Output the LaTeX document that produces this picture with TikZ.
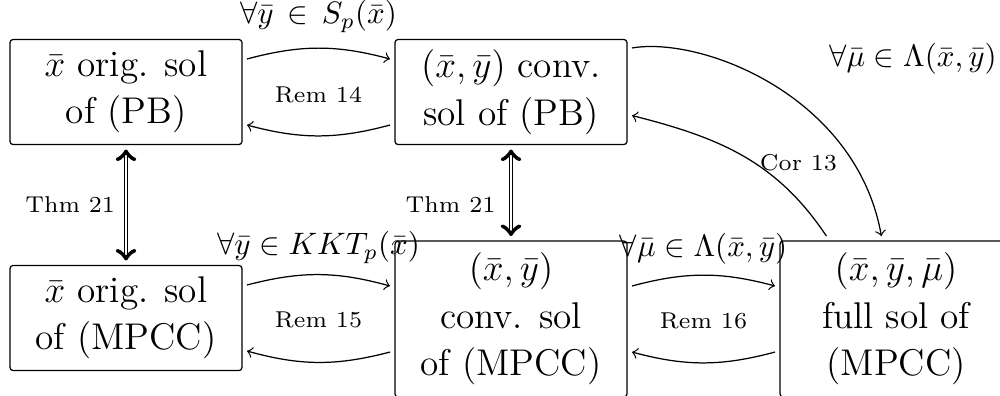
\documentclass[tikz,border=0pt]{standalone}
\usetikzlibrary{calc}
\tikzset{
  box/.style={draw, rounded corners=1pt, minimum width=74.84pt, align=center,
    font=\fontsize{12}{15.3}\selectfont, outer sep=1.6pt, inner sep=0pt},
  sbox/.style={box, minimum height=33.9pt},
  tbox/.style={box, minimum height=50.3pt},
  lab/.style={font=\fontsize{7.4}{9}\selectfont},
  mlab/.style={font=\fontsize{10}{12}\selectfont},
  arr/.style={->, bend left=15},
  dbl/.style={double, <->},
}
\begin{document}
\begin{tikzpicture}[x=0.32258pt, y=-0.32258pt]
\useasboundingbox (0,0) rectangle (1000,395);
\node[sbox] (A) at (126,92) {$\bar x$ orig. sol\\of (PB)};
\node[sbox] (B) at (511,92) {$(\bar x,\bar y)$ conv.\\sol of (PB)};
\node[sbox] (C) at (126,318) {$\bar x$ orig. sol\\of (MPCC)};
\node[tbox] (D) at (511,319) {$(\bar x,\bar y)$\\conv. sol\\of (MPCC)};
\node[tbox] (E) at (896,319) {$(\bar x,\bar y,\bar\mu)$\\full sol of\\(MPCC)};

\draw[arr] ([yshift=10.65pt]A.east) to node[mlab, above=1.5pt] {$\forall\bar y \,\in\, S_p(\bar x)$} ([yshift=10.65pt]B.west);
\draw[arr] ([yshift=-10.65pt]B.west) to ([yshift=-10.65pt]A.east);
\node[lab] (r14) at ($(A.east)!.5!(B.west)$) [yshift=-1pt] {Rem 14};

\draw[arr] ([yshift=10.65pt]C.east) to node[mlab, above] {$\forall\bar y \in KKT_p(\bar x)$} ([yshift=10.65pt]D.west);
\draw[arr] ([yshift=-10.65pt]D.west) to ([yshift=-10.65pt]C.east);
\node[lab] (r15) at ($(C.east)!.5!(D.west)$) [yshift=-0.5pt] {Rem 15};

\draw[arr] ([yshift=10.65pt]D.east) to node[mlab, above] {$\forall\bar \mu \in \Lambda(\bar x,\bar y)$} ([yshift=10.65pt]E.west);
\draw[arr] ([yshift=-10.65pt]E.west) to ([yshift=-10.65pt]D.east);
\node[lab] (r16) at ($(D.east)!.5!(E.west)$) [yshift=-0.5pt] {Rem 16};

\draw[dbl] (A) -- node[lab, left] {Thm 21} (C);
\draw[dbl] (B) -- node[lab, left=1.5pt, pos=0.64] {Thm 21} (D);

\draw[->] (B.20) .. controls +(70,-12) and +(-25,-140) .. (E.100)
  node[mlab, pos=0.5, anchor=south west, xshift=14.5pt] {$\forall\bar \mu \in \Lambda(\bar x,\bar y)$};
\draw[->] (E.130) .. controls +(-50,-75) and +(87,22) .. (B.-11)
  node[lab, pos=0.4, anchor=west, xshift=-4pt, yshift=1.5pt] {Cor 13};
\end{tikzpicture}
\end{document}
